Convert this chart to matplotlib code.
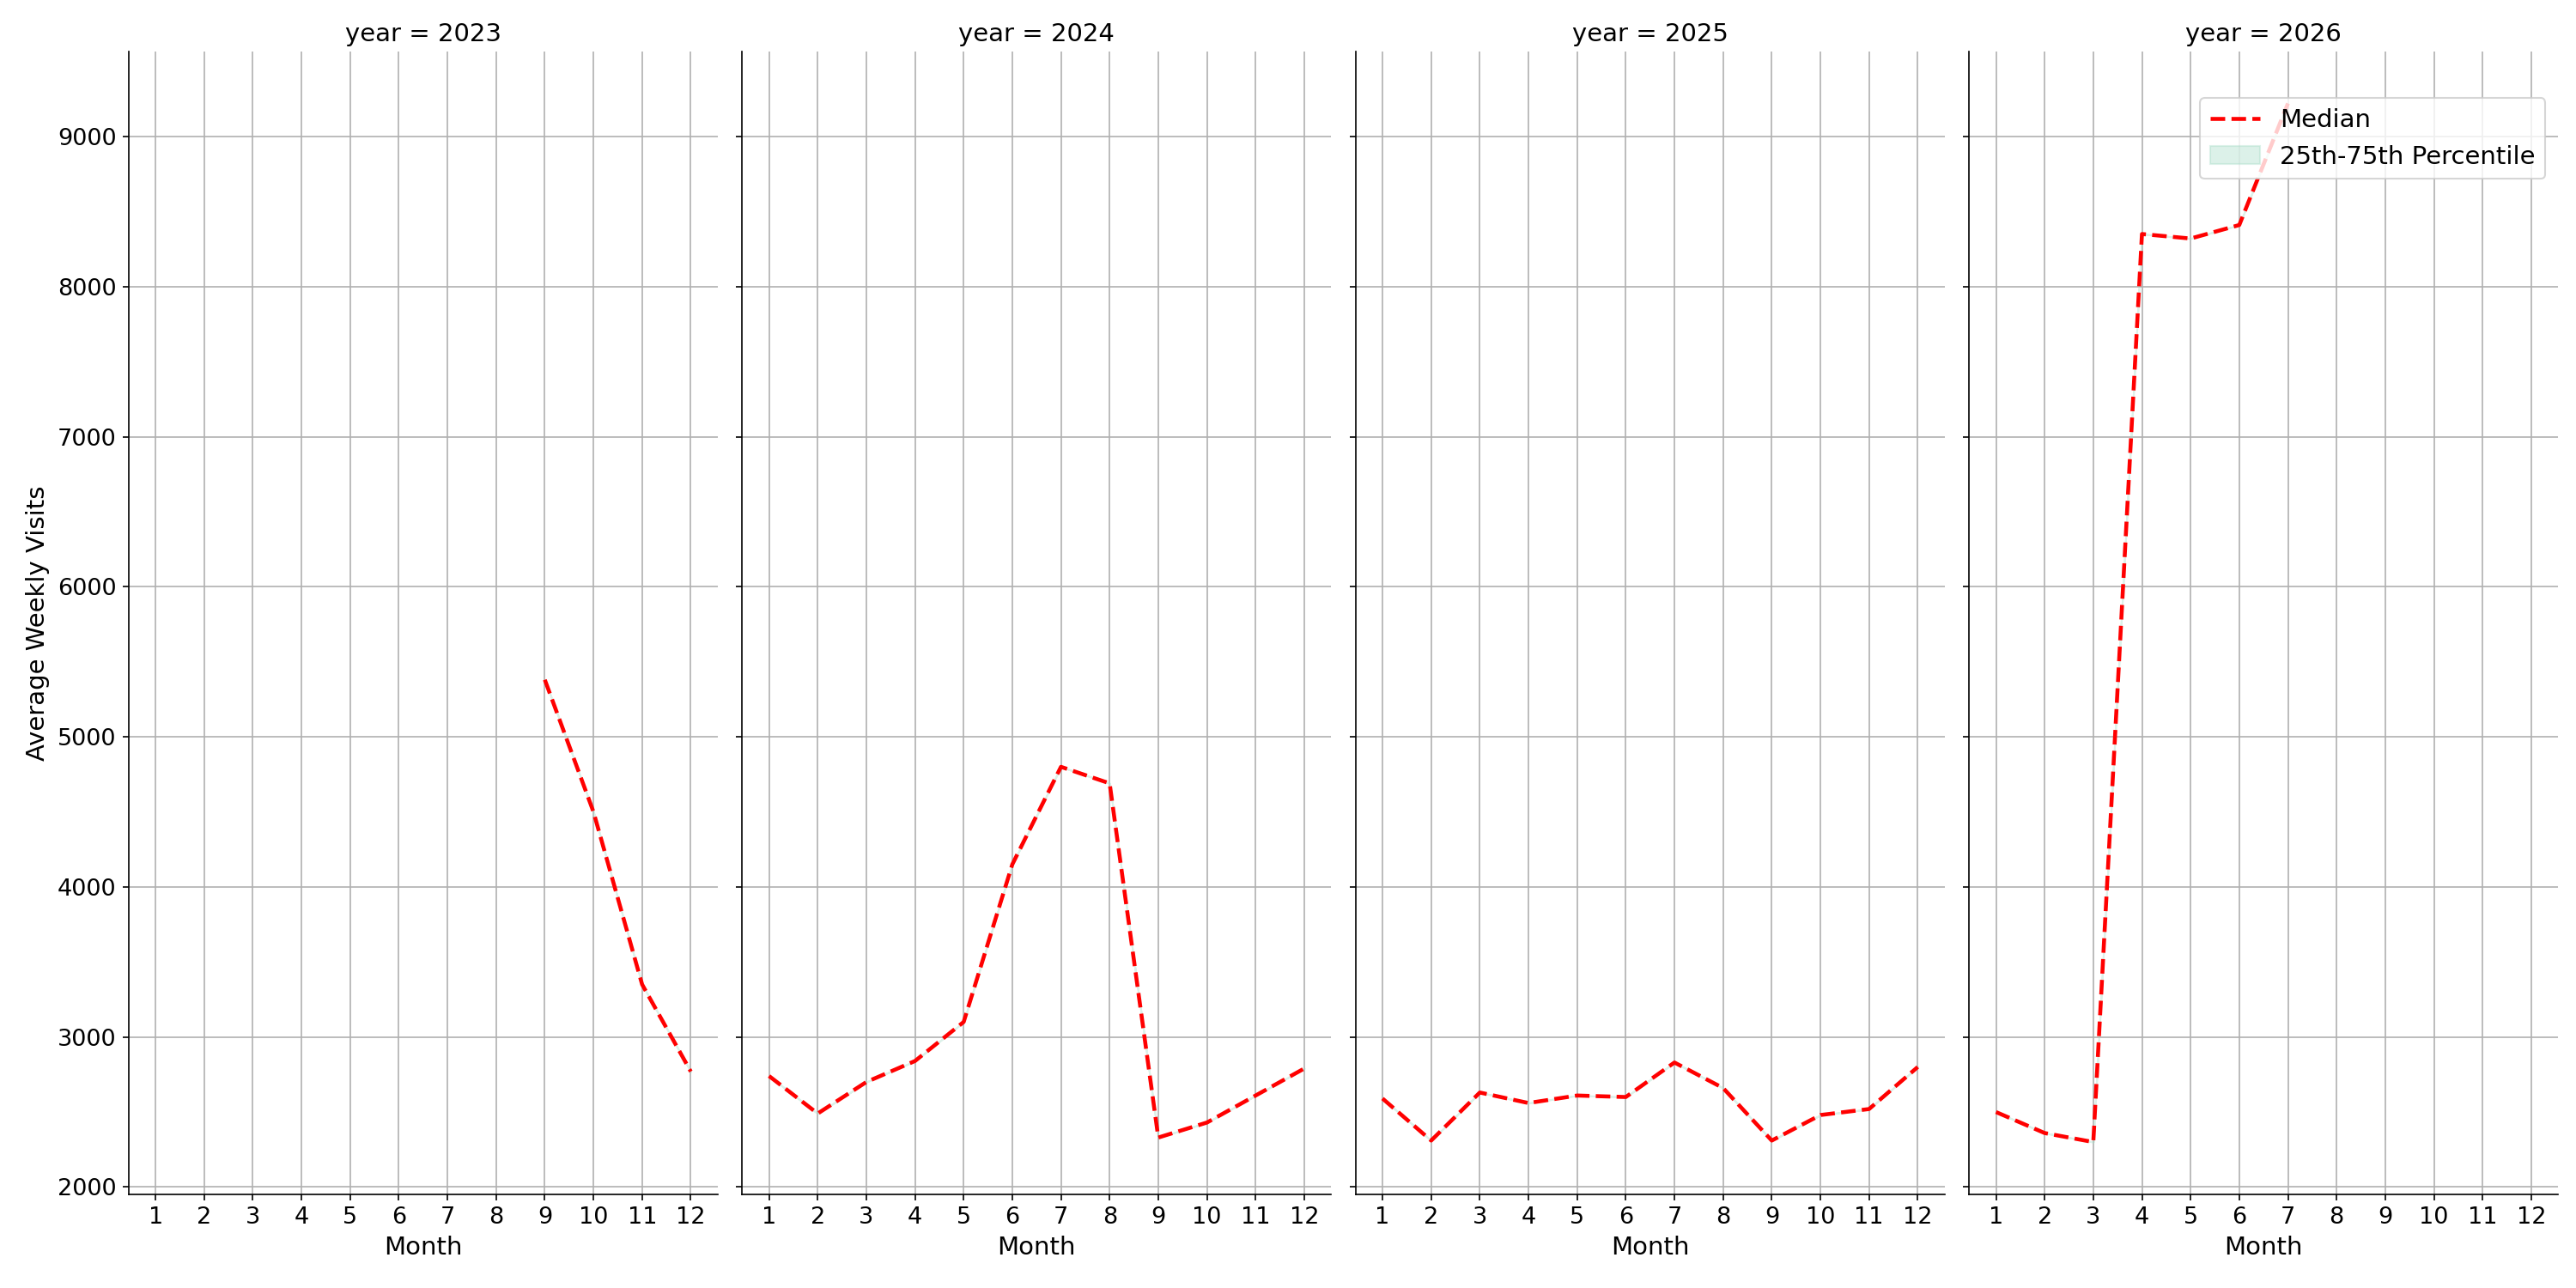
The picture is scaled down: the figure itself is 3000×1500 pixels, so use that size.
import matplotlib
matplotlib.use("Agg")
import matplotlib.pyplot as plt
import numpy as np

years = [2023, 2024, 2025, 2026]
months_2023 = [9, 10, 11, 12]
median_2023 = [5380, 4500, 3350, 2770]
months_2024 = list(range(1, 13))
median_2024 = [2740, 2490, 2700, 2840, 3100, 4150, 4800, 4690, 2330, 2430, 2610, 2790]
months_2025 = list(range(1, 13))
median_2025 = [2590, 2310, 2630, 2560, 2610, 2600, 2830, 2660, 2310, 2480, 2520, 2800]
months_2026 = [1, 2, 3, 4, 5, 6, 7]
median_2026 = [2500, 2360, 2300, 8350, 8320, 8410, 9220]

data = {2023: (months_2023, median_2023), 2024: (months_2024, median_2024),
        2025: (months_2025, median_2025), 2026: (months_2026, median_2026)}

fig, axes = plt.subplots(1, 4, figsize=(20, 10), dpi=150, sharey=True)
fig.subplots_adjust(left=0.05, right=0.993, top=0.96, bottom=0.073, wspace=0.042)
for ax, y in zip(axes, years):
    m, v = data[y]
    ax.fill_between(m, v, v, color="#a8dcc8", alpha=0.4, label="25th-75th Percentile")
    ax.plot(m, v, color="red", linestyle="--", linewidth=2.2, label="Median")
    ax.set_title(f"year = {y}", fontsize=14)
    ax.set_xticks(range(1, 13))
    ax.set_xlim(0.45, 12.55)
    ax.grid(True, color="#b0b0b0", linewidth=0.8)
    ax.set_axisbelow(True)
    ax.spines["top"].set_visible(False)
    ax.spines["right"].set_visible(False)
    ax.tick_params(labelsize=13)
    ax.set_xlabel("Month", fontsize=14)
axes[0].set_ylabel("Average Weekly Visits", fontsize=14)
h, l = axes[3].get_legend_handles_labels()
axes[3].legend([h[1], h[0]], [l[1], l[0]], loc="upper right",
               bbox_to_anchor=(1.0, 0.97), fontsize=14)
fig.savefig("out.png")
